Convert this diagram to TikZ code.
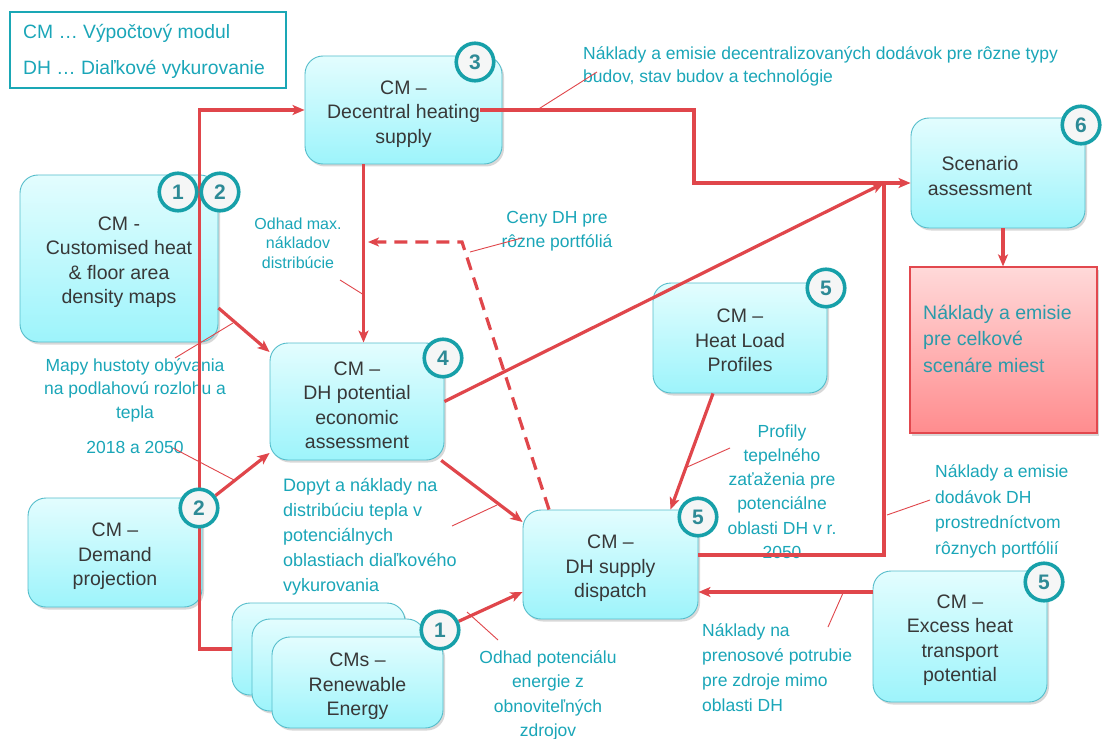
\documentclass[tikz,border=0pt]{standalone}
\usepackage{fontspec}
\setmainfont{Liberation Sans}
\usetikzlibrary{arrows.meta,shadows}
\definecolor{red1}{HTML}{E0464B}
\definecolor{teal1}{HTML}{1AA7B5}
\definecolor{tealtext}{HTML}{1AA6B8}
\definecolor{boxtop}{HTML}{E3FDFE}
\definecolor{boxbot}{HTML}{9DF4FB}
\definecolor{boxline}{HTML}{55BDCB}
\definecolor{badgeline}{HTML}{17A0A9}
\definecolor{badgefill}{HTML}{F5F6F6}
\definecolor{badgetext}{HTML}{2E8A96}
\definecolor{pinktop}{HTML}{FFD9D9}
\definecolor{pinkbot}{HTML}{FF8C8E}
\definecolor{pinkline}{HTML}{E2484E}
\definecolor{pinktext}{HTML}{2A9BAA}
\definecolor{darktext}{HTML}{383838}
\newcommand\cmstrut{\rule{0pt}{21.5pt}}
\pgfdeclarelayer{fg}
\pgfsetlayers{main,fg}
\begin{document}
\begin{tikzpicture}[x=1pt,y=-1pt,
  cmbox/.style={draw=boxline, line width=0.9pt, rounded corners=18pt, top color=boxtop, bottom color=boxbot,
    drop shadow={opacity=0.3,shadow xshift=2pt,shadow yshift=-2.5pt}, align=center, text=darktext,
    font=\fontsize{19.5}{24.5}\selectfont, inner sep=0pt},
  badge/.style={circle, draw=badgeline, line width=3.6pt, fill=badgefill, minimum size=37.5pt, inner sep=0pt,
    text=badgetext, font=\fontsize{21}{21}\selectfont\bfseries},
  conn/.style={draw=red1, line width=3.2pt, -{Stealth[length=12pt,width=10pt,inset=3pt]}},
  connplain/.style={draw=red1, line width=3.2pt},
  dconn/.style={draw=red1, line width=3.2pt, dash pattern=on 13pt off 8pt, -{Stealth[length=11pt,width=9pt,inset=3pt]}},
  callout/.style={draw=red1, line width=0.9pt},
  note/.style={text=tealtext, font=\fontsize{17.5}{24.5}\selectfont, inner sep=0pt, align=center}
]
\fill[white] (0,0) rectangle (1107,738);
\useasboundingbox (0,0) rectangle (1107,738);

% legend
\node[draw=teal1, line width=1.8pt, minimum width=276pt, minimum height=76pt, inner sep=0pt] (leg) at (148,50) {};
\node[note, anchor=west, align=left, font=\fontsize{19.3}{36}\selectfont] (legt) at (23,51) {CM … Výpočtový modul\\DH … Diaľkové vykurovanie};

% boxes
\node[cmbox, minimum width=197pt, minimum height=108pt] (dec) at (403.5,110) {\cmstrut CM –\\Decentral heating\\supply};
\node[cmbox, minimum width=198pt, minimum height=167pt] (cust) at (119,258.5) {\cmstrut CM -\\Customised heat\\\& floor area\\density maps};
\node[cmbox, minimum width=174pt, minimum height=117pt] (pot) at (357,401.5) {\cmstrut CM –\\DH potential\\economic\\assessment};
\node[cmbox, minimum width=174pt, minimum height=109pt] (dem) at (115,552.5) {\cmstrut CM –\\Demand\\projection};
\node[cmbox, minimum width=173pt, minimum height=92pt] (ren3) at (318.5,649) {};
\node[cmbox, minimum width=173pt, minimum height=92pt] (ren2) at (338.5,665) {};
\node[cmbox, minimum width=171pt, minimum height=91pt] (ren1) at (357.5,682.5) {\cmstrut CMs –\\Renewable\\Energy};
\node[cmbox, minimum width=175pt, minimum height=109pt] (disp) at (610.5,564.5) {\cmstrut CM –\\DH supply\\dispatch};
\node[cmbox, minimum width=174pt, minimum height=110pt] (heat) at (740,338) {\rule{0pt}{18.5pt}CM –\\Heat Load\\Profiles};
\node[cmbox, minimum width=174pt, minimum height=110pt] (scen) at (998,173) {};
\node[text=darktext, font=\fontsize{19.5}{24.5}\selectfont, align=center, inner sep=0pt] (scent) at (980,176) {Scenario\\assessment};
\node[draw=pinkline, line width=1.2pt, top color=pinktop, bottom color=pinkbot, minimum width=187pt, minimum height=166pt,
  drop shadow={opacity=0.3,shadow xshift=2pt,shadow yshift=-2.5pt}] (pink) at (1003.5,350) {};
\node[text=pinktext, anchor=west, align=left, inner sep=0pt, font=\fontsize{19.5}{26.5}\selectfont] (pinkt) at (923,338.5) {Náklady a emisie\\pre celkové\\scenáre miest};
\node[cmbox, minimum width=174pt, minimum height=131pt] (excess) at (960,636.5) {\cmstrut CM –\\Excess heat\\transport\\potential};

% badges
\begin{pgfonlayer}{fg}
\node[badge] (b3) at (475,62) {3};
\node[badge] (b1c) at (178,192) {1};
\node[badge] (b2c) at (220,192) {2};
\node[badge] (b4) at (443,358) {4};
\node[badge] (b2d) at (199,508) {2};
\node[badge] (b1r) at (440,630) {1};
\node[badge] (b5d) at (698,517) {5};
\node[badge] (b5h) at (826,288) {5};
\node[badge] (b6) at (1081,125) {6};
\node[badge] (b5e) at (1044,582) {5};
\end{pgfonlayer}

% annotation texts
\node[note, anchor=west, align=left, font=\fontsize{17.5}{23.5}\selectfont] (t1) at (583,66.5) {Náklady a emisie decentralizovaných dodávok pre rôzne typy\\budov, stav budov a technológie};
\node[note, font=\fontsize{16}{19.5}\selectfont] (t2) at (298,243) {Odhad max.\\nákladov\\distribúcie};
\node[note, font=\fontsize{17.5}{24}\selectfont] (t3) at (557,231) {Ceny DH pre\\rôzne portfóliá};
\node[note, font=\fontsize{17.5}{23.5}\selectfont] (t4) at (135,390) {Mapy hustoty obývania\\na podlahovú rozlohu a\\tepla};
\node[note] (t5) at (135,447) {2018 a 2050};
\node[note, anchor=west, align=left, font=\fontsize{18}{25}\selectfont] (t6) at (283,537) {Dopyt a náklady na\\distribúciu tepla v\\potenciálnych\\oblastiach diaľkového\\vykurovania};
\node[note, font=\fontsize{17.5}{24.3}\selectfont] (t7) at (548,695.5) {Odhad potenciálu\\energie z\\obnoviteľných\\zdrojov};
\node[note, font=\fontsize{17.5}{24.2}\selectfont] (t8) at (782,491.5) {Profily\\tepelného\\zaťaženia pre\\potenciálne\\oblasti DH v r.\\2050};
\node[note, anchor=west, align=left, font=\fontsize{17.5}{25.7}\selectfont] (t9) at (935,511.5) {Náklady a emisie\\dodávok DH\\prostredníctvom\\rôznych portfólií};
\node[note, anchor=west, align=left, font=\fontsize{17.5}{25}\selectfont] (t10) at (702,668) {Náklady na\\prenosové potrubie\\pre zdroje mimo\\oblasti DH};

% helper coordinates
\coordinate (jn) at (884,183);
\coordinate (dk) at (462,242);
\coordinate (dend) at (368,242);
\coordinate (dk2) at (694,183);
\coordinate (dv) at ([xshift=-40pt]dec.south);
\coordinate (sp1) at ([xshift=5pt]scen.south);
\coordinate (exs) at ([yshift=44.5pt]excess.west);
\coordinate (decs) at ([xshift=-22pt]dec.east);

% connectors
\draw[conn] (ren3.west) -- ++(-32,0) |- (dec.west);
\draw[conn] ([yshift=-49.5pt]cust.east) -- ([yshift=49.5pt]pot.west);
\draw[conn] (b2d.37) -- ([yshift=-51.5pt]pot.west);
\draw[conn] (dv) -- (dv |- pot.north);
\draw[dconn] ([xshift=-61.5pt]disp.north) -- (dk) -- (dend);
\draw[conn] (pot.east) -- (jn);
\draw[conn] (decs) -| (dk2) |- (jn -| scen.west);
\draw[connplain] ([yshift=9.5pt]disp.east) -| (jn);
\draw[conn] (pot.-35) -- ([yshift=42.5pt]disp.west);
\draw[conn] (b1r.25) -- ([yshift=-27.5pt]disp.west);
\draw[conn] ([xshift=-27pt]heat.south) -- ([xshift=60pt]disp.north);
\draw[conn] (exs) -- (exs -| disp.east);
\draw[conn] (sp1) -- (sp1 |- pink.north);

% callout leader lines
\coordinate (k1a) at (537,110); \coordinate (k1b) at (597,72);
\coordinate (k2a) at (340,280); \coordinate (k2b) at (364,295);
\coordinate (k3a) at (470,252); \coordinate (k3b) at (522,238);
\coordinate (k4a) at (233,323); \coordinate (k4b) at (175,358);
\coordinate (k5a) at (173,448); \coordinate (k5b) at (234,480);
\coordinate (k6a) at (452,526); \coordinate (k6b) at (497,505);
\coordinate (k7a) at (467,612); \coordinate (k7b) at (498,640);
\coordinate (k8a) at (685,468); \coordinate (k8b) at (730,448);
\coordinate (k9a) at (887,515); \coordinate (k9b) at (930,500);
\coordinate (k10a) at (843,593); \coordinate (k10b) at (828,627);
\foreach \k in {1,...,10} {\draw[callout] (k\k a) -- (k\k b);}
\end{tikzpicture}
\end{document}
